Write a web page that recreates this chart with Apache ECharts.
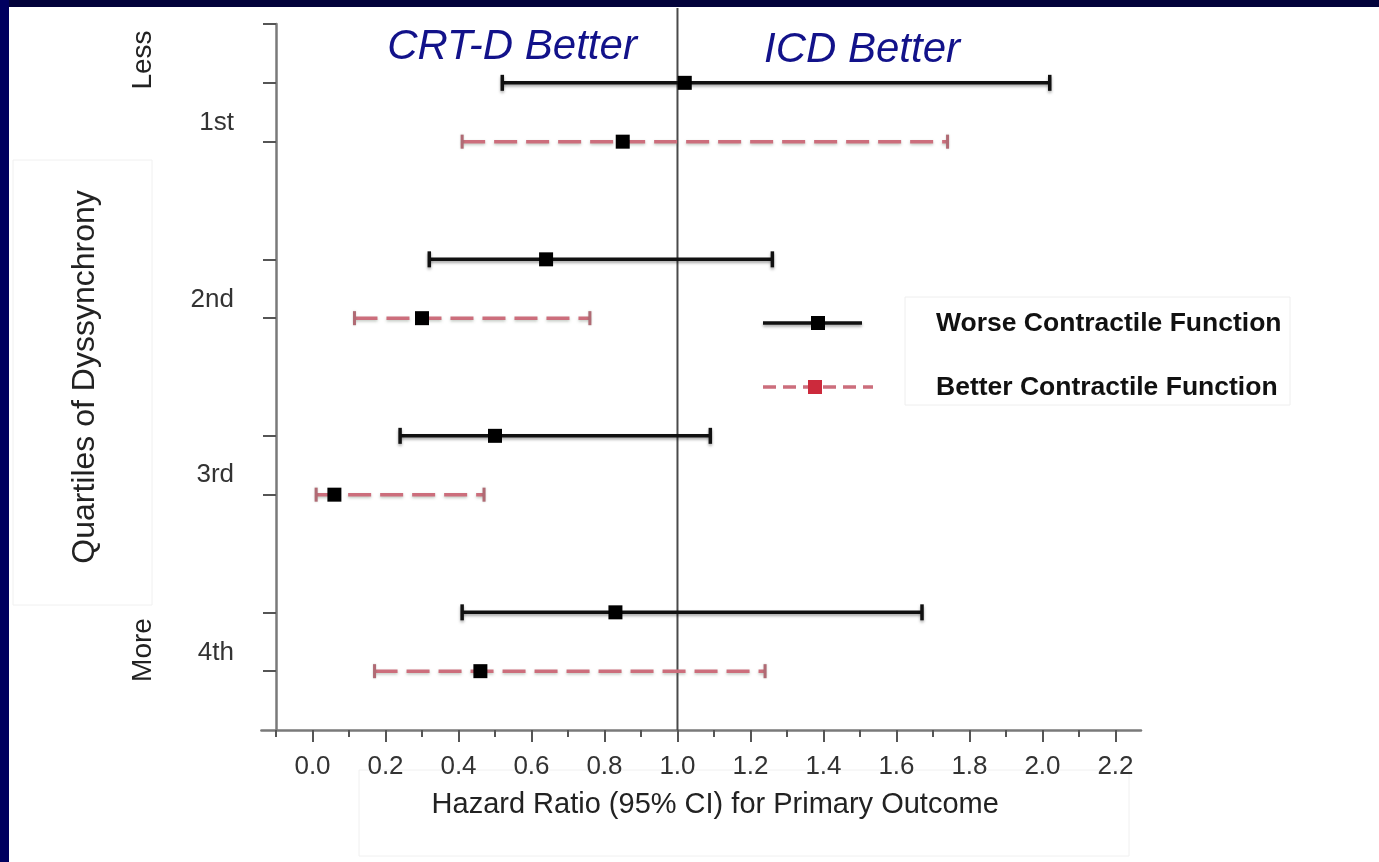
<!DOCTYPE html>
<html>
<head>
<meta charset="utf-8">
<script src="https://cdn.jsdelivr.net/npm/echarts@6/dist/echarts.min.js"></script>
<style>
  html, body { margin: 0; padding: 0; background: #ffffff; }
  #chart { width: 1379px; height: 862px; }
</style>
</head>
<body>
<div id="chart"></div>
<script>
// Quartile groups (rows run top to bottom on the y axis)
const quartileLabels = ['1st', '2nd', '3rd', '4th'];
const quartileLabelPos = [1.68, 4.68, 7.67, 10.68];
const worseRows = [1, 4, 7, 10];
const betterRows = [2, 5, 8, 11];

// Hazard ratios with 95% confidence limits
const worseHR = [1.02, 0.64, 0.50, 0.83];
const worseLo = [0.52, 0.32, 0.24, 0.41];
const worseHi = [2.02, 1.26, 1.09, 1.67];

const betterHR = [0.85, 0.30, 0.06, 0.46];
const betterLo = [0.41, 0.115, 0.01, 0.17];
const betterHi = [1.74, 0.76, 0.47, 1.24];

// Axis ticks
const xMajorTicks = [0.0, 0.2, 0.4, 0.6, 0.8, 1.0, 1.2, 1.4, 1.6, 1.8, 2.0, 2.2];
const xMinorTicks = [-0.1, 0.1, 0.3, 0.5, 0.7, 0.9, 1.1, 1.3, 1.5, 1.7, 1.9, 2.1];
const yTicks = [0, 1, 2, 4, 5, 7, 8, 10, 11];
const referenceHR = [1.0];

const FONT = '"Liberation Sans", Arial, sans-serif';

const worseIntervals = worseRows.map((r, i) => [r, worseLo[i], worseHi[i]]);
const betterIntervals = betterRows.map((r, i) => [r, betterLo[i], betterHi[i]]);
const worsePoints = worseRows.map((r, i) => [worseHR[i], r]);
const betterPoints = betterRows.map((r, i) => [betterHR[i], r]);

function intervalRenderer(lineStyle, capStyle, capHalf) {
  return function (params, api) {
    const row = api.value(0);
    const a = api.coord([api.value(1), row]);
    const b = api.coord([api.value(2), row]);
    return {
      type: 'group',
      children: [
        { type: 'line', shape: { x1: a[0], y1: a[1], x2: b[0], y2: b[1] }, style: lineStyle },
        { type: 'line', shape: { x1: a[0], y1: a[1] - capHalf, x2: a[0], y2: a[1] + capHalf }, style: capStyle },
        { type: 'line', shape: { x1: b[0], y1: b[1] - capHalf, x2: b[0], y2: b[1] + capHalf }, style: capStyle }
      ]
    };
  };
}

const blackLine = {
  stroke: '#111111', lineWidth: 3.5,
  shadowColor: 'rgba(0,0,0,0.35)', shadowBlur: 3, shadowOffsetY: 2
};
const redLine = {
  stroke: '#cc6e7c', lineWidth: 3.5, lineDash: [23, 9],
  shadowColor: 'rgba(80,100,80,0.35)', shadowBlur: 3, shadowOffsetY: 1.5
};
const redCap = {
  stroke: '#b06a74', lineWidth: 3,
  shadowColor: 'rgba(80,100,80,0.3)', shadowBlur: 2
};

const chart = echarts.init(document.getElementById('chart'));

chart.setOption({
  backgroundColor: '#ffffff',
  animation: false,
  grid: { left: 261.4, right: 238, top: 24, bottom: 132 },
  xAxis: [
    {
      type: 'value', min: -0.14, max: 2.27, position: 'bottom',
      axisLine: { onZero: false, lineStyle: { color: '#7a7a7a', width: 2.5 } },
      axisTick: { customValues: xMajorTicks, length: 12, lineStyle: { color: '#555', width: 2 } },
      axisLabel: {
        customValues: xMajorTicks, formatter: v => v.toFixed(1),
        fontFamily: FONT, fontSize: 26, color: '#333', margin: 24
      },
      splitLine: { show: false },
      name: 'Hazard Ratio (95% CI) for Primary Outcome',
      nameLocation: 'middle', nameGap: 60,
      nameTextStyle: { fontFamily: FONT, fontSize: 29, color: '#222', padding: [0, 0, 0, 28] }
    },
    {
      type: 'value', min: -0.14, max: 2.27, position: 'bottom',
      axisLine: { show: false, onZero: false },
      axisTick: { customValues: xMinorTicks, length: 7, lineStyle: { color: '#555', width: 2 } },
      axisLabel: { show: false },
      splitLine: { show: false }
    }
  ],
  yAxis: {
    type: 'value', min: 0, max: 12, inverse: true, position: 'left', offset: -14.6,
    axisLine: { onZero: false, lineStyle: { color: '#7a7a7a', width: 2.5 } },
    axisTick: { customValues: yTicks, length: 13, lineStyle: { color: '#555', width: 2 } },
    axisLabel: {
      customValues: quartileLabelPos,
      formatter: function (v) {
        let best = 0;
        quartileLabelPos.forEach((p, i) => { if (Math.abs(p - v) < Math.abs(quartileLabelPos[best] - v)) best = i; });
        return quartileLabels[best];
      },
      fontFamily: FONT, fontSize: 26, color: '#333', margin: 42
    },
    splitLine: { show: false },
    name: 'Quartiles of Dyssynchrony',
    nameLocation: 'middle', nameRotate: 90, nameGap: 175,
    nameTextStyle: { fontFamily: FONT, fontSize: 32, color: '#222' }
  },
  series: [
    {
      name: 'reference',
      type: 'custom',
      data: referenceHR.map(v => [v]),
      encode: { x: 0 },
      z: 1,
      renderItem: function (params, api) {
        const bottom = api.coord([api.value(0), 12]);
        const top = api.coord([api.value(0), -0.27]);
        return {
          type: 'line',
          shape: { x1: bottom[0], y1: bottom[1], x2: top[0], y2: top[1] },
          style: { stroke: '#4a4a4a', lineWidth: 2 }
        };
      }
    },
    {
      name: 'Better Contractile Function',
      type: 'custom', z: 2,
      data: betterIntervals,
      encode: { x: [1, 2], y: 0 },
      renderItem: intervalRenderer(redLine, redCap, 7)
    },
    {
      name: 'Worse Contractile Function',
      type: 'custom', z: 2,
      data: worseIntervals,
      encode: { x: [1, 2], y: 0 },
      renderItem: intervalRenderer(blackLine, blackLine, 8)
    },
    {
      type: 'scatter', z: 5,
      data: worsePoints.concat(betterPoints),
      symbol: 'rect', symbolSize: 14,
      itemStyle: { color: '#000000', opacity: 1 }
    }
  ],
  graphic: [
    // slide frame
    { type: 'rect', shape: { x: 0, y: 0, width: 1379, height: 7 }, style: { fill: '#03033b' }, z: 100 },
    { type: 'rect', shape: { x: 0, y: 0, width: 9, height: 862 }, style: { fill: '#00005f' }, z: 100 },
    // faint frames around titles and legend
    { type: 'rect', shape: { x: 13, y: 160, width: 139, height: 445 }, style: { fill: 'none', stroke: '#f0f0f0', lineWidth: 1 } },
    { type: 'rect', shape: { x: 359, y: 770, width: 770, height: 86 }, style: { fill: 'none', stroke: '#f0f0f0', lineWidth: 1 } },
    { type: 'rect', shape: { x: 905, y: 297, width: 385, height: 108 }, style: { fill: 'none', stroke: '#eeeeee', lineWidth: 1 } },
    // direction labels
    { type: 'text', x: 143, y: 60, rotation: Math.PI / 2,
      style: { text: 'Less', font: '28px ' + FONT, fill: '#222', align: 'center', verticalAlign: 'middle' } },
    { type: 'text', x: 143, y: 650, rotation: Math.PI / 2,
      style: { text: 'More', font: '28px ' + FONT, fill: '#222', align: 'center', verticalAlign: 'middle' } },
    { type: 'text', x: 512, y: 47,
      style: { text: 'CRT-D Better', font: 'italic 42px ' + FONT, fill: '#12128a', align: 'center', verticalAlign: 'middle' } },
    { type: 'text', x: 862, y: 50,
      style: { text: 'ICD Better', font: 'italic 42px ' + FONT, fill: '#12128a', align: 'center', verticalAlign: 'middle' } },
    // legend
    { type: 'line', shape: { x1: 763, y1: 323, x2: 862, y2: 323 }, style: blackLine },
    { type: 'rect', shape: { x: 811, y: 316, width: 14, height: 14 }, style: { fill: '#000' } },
    { type: 'text', x: 936, y: 324,
      style: { text: 'Worse Contractile Function', font: 'bold 26.5px ' + FONT, fill: '#111', verticalAlign: 'middle' } },
    { type: 'line', shape: { x1: 763, y1: 387, x2: 873, y2: 387 }, style: { stroke: '#cc6e7c', lineWidth: 3.5, lineDash: [13, 7] } },
    { type: 'rect', shape: { x: 808, y: 380, width: 14, height: 14 }, style: { fill: '#cc2a3c' } },
    { type: 'text', x: 936, y: 388,
      style: { text: 'Better Contractile Function', font: 'bold 26.5px ' + FONT, fill: '#111', verticalAlign: 'middle' } }
  ]
});
</script>
</body>
</html>
